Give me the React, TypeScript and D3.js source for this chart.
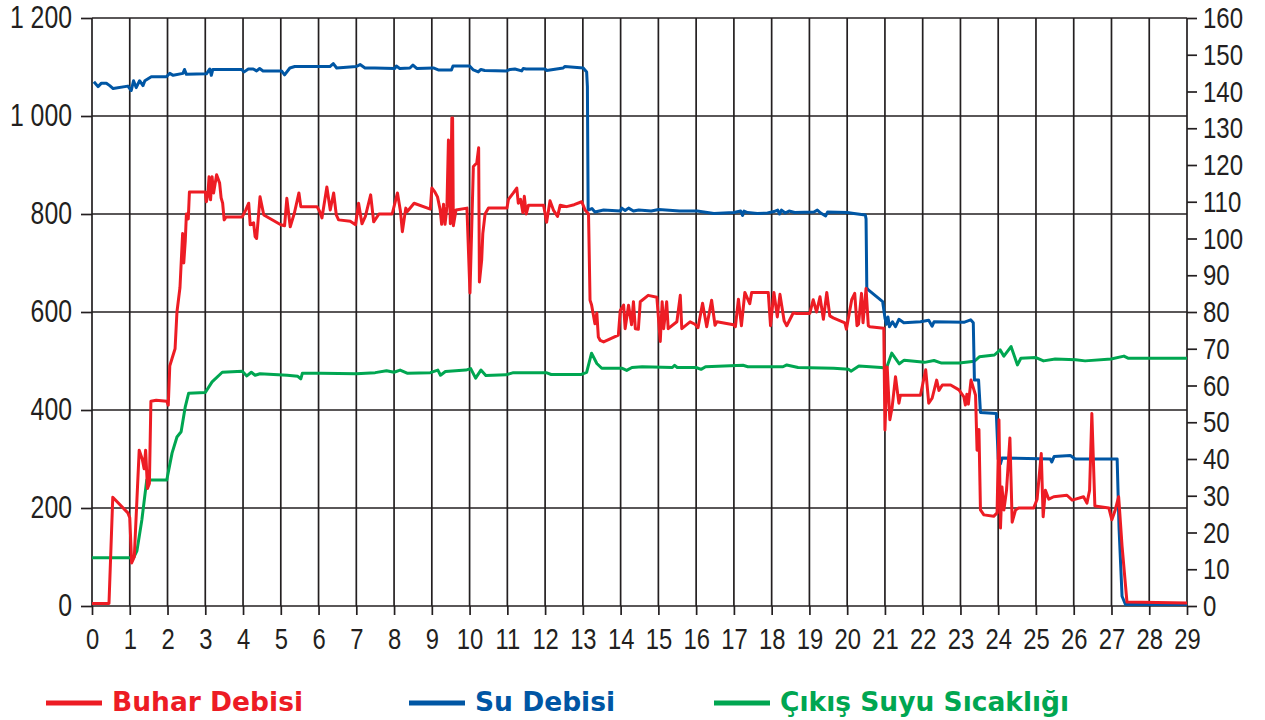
import React, { useRef, useEffect } from 'react';
import * as d3 from 'd3';

type Pt = [number, number];

// x = saat, y = t/h (sol eksen)
const buharDebisi: Pt[] = [
  [0, 5], [0.45, 5], [0.55, 222], [0.95, 190], [1.0, 180], [1.05, 88], [1.12, 100], [1.25, 318],
  [1.33, 300], [1.38, 280], [1.42, 318], [1.47, 240], [1.52, 250], [1.56, 418], [1.7, 420], [1.98, 418],
  [2.02, 410], [2.06, 490], [2.12, 505], [2.2, 525], [2.25, 600], [2.33, 650], [2.4, 760], [2.43, 700],
  [2.47, 745], [2.5, 800], [2.55, 790], [2.58, 845], [3.0, 845], [3.03, 825], [3.07, 840], [3.1, 876],
  [3.14, 829], [3.18, 876], [3.22, 843], [3.3, 880], [3.38, 863], [3.42, 833], [3.46, 822], [3.5, 788],
  [3.55, 794], [3.98, 794], [4.07, 808], [4.15, 822], [4.19, 778], [4.28, 782], [4.32, 754], [4.36, 750],
  [4.45, 835], [4.55, 798], [5.0, 778], [5.1, 776], [5.16, 832], [5.25, 774], [5.36, 802], [5.48, 843],
  [5.53, 815], [5.96, 815], [6.03, 805], [6.09, 792], [6.22, 855], [6.31, 808], [6.4, 843], [6.47, 798],
  [6.53, 788], [6.84, 785], [6.98, 778], [7.06, 822], [7.15, 780], [7.24, 795], [7.38, 839], [7.46, 784],
  [7.6, 800], [7.95, 800], [8.09, 843], [8.17, 805], [8.22, 764], [8.31, 812], [8.35, 805], [8.53, 822],
  [8.96, 810], [9.0, 853], [9.08, 845], [9.15, 835], [9.22, 809], [9.26, 779], [9.31, 820], [9.35, 779],
  [9.4, 815], [9.44, 951], [9.49, 780], [9.53, 996], [9.55, 996], [9.57, 776], [9.64, 808], [9.93, 812],
  [10.01, 639], [10.1, 897], [10.19, 904], [10.24, 935], [10.26, 661], [10.32, 706], [10.35, 760],
  [10.41, 800], [10.5, 812], [10.99, 812], [11.03, 830], [11.16, 843], [11.25, 853], [11.29, 822],
  [11.35, 830], [11.41, 803], [11.45, 836], [11.5, 800], [11.56, 818], [11.96, 818], [12.04, 783],
  [12.13, 827], [12.22, 808], [12.33, 795], [12.4, 818], [12.57, 815], [12.77, 819], [12.97, 825],
  [13.06, 808], [13.15, 800], [13.19, 624], [13.23, 615], [13.32, 576], [13.37, 598], [13.41, 549],
  [13.46, 542], [13.55, 539], [13.94, 553], [13.99, 603], [14.08, 614], [14.12, 566], [14.21, 614],
  [14.29, 574], [14.34, 621], [14.39, 566], [14.47, 565], [14.52, 621], [14.73, 634], [14.96, 630],
  [15.05, 540], [15.1, 621], [15.14, 566], [15.22, 621], [15.26, 566], [15.49, 580], [15.58, 634],
  [15.62, 566], [15.84, 580], [15.97, 575], [16.05, 568], [16.17, 618], [16.28, 570], [16.41, 624],
  [16.5, 573], [16.55, 580], [16.99, 574], [17.04, 570], [17.12, 626], [17.2, 572], [17.29, 640],
  [17.42, 617], [17.47, 640], [17.91, 640], [17.97, 572], [18.06, 640], [18.15, 590], [18.22, 636],
  [18.33, 582], [18.4, 572], [18.57, 598], [18.66, 597], [19.01, 597], [19.1, 625], [19.19, 600],
  [19.28, 631], [19.37, 585], [19.46, 640], [19.54, 592], [19.63, 588], [19.94, 578], [19.98, 565],
  [20.12, 625], [20.2, 638], [20.26, 572], [20.3, 575], [20.38, 638], [20.42, 578], [20.5, 648],
  [20.56, 572], [20.6, 570], [20.97, 567], [21.0, 359], [21.06, 488], [21.13, 380], [21.19, 405],
  [21.28, 468], [21.37, 414], [21.41, 430], [21.94, 430], [22.08, 482], [22.16, 414], [22.25, 424],
  [22.37, 461], [22.43, 440], [22.52, 451], [22.74, 451], [22.96, 441], [23.09, 427], [23.13, 410],
  [23.17, 432], [23.21, 412], [23.28, 461], [23.4, 430], [23.44, 318], [23.49, 360], [23.53, 196],
  [23.62, 186], [23.88, 183], [23.97, 190], [24.02, 380], [24.06, 159], [24.1, 243], [24.15, 196],
  [24.22, 236], [24.31, 343], [24.37, 171], [24.46, 196], [24.54, 200], [24.94, 200], [25.03, 218],
  [25.14, 311], [25.19, 182], [25.25, 236], [25.34, 218], [25.47, 223], [25.82, 226], [25.96, 216],
  [26.26, 223], [26.35, 210], [26.42, 236], [26.48, 393], [26.56, 204], [26.93, 200], [27.01, 176],
  [27.1, 196], [27.19, 223], [27.28, 122], [27.41, 8], [29, 6]
];

// Su Debisi (sol eksen)
const suDebisi: Pt[] = [
  [0.05, 1070], [0.16, 1060], [0.25, 1067], [0.38, 1067], [0.47, 1062], [0.56, 1056], [0.95, 1061],
  [1.04, 1052], [1.1, 1072], [1.17, 1058], [1.26, 1072], [1.35, 1062], [1.4, 1072], [1.57, 1080],
  [1.97, 1080], [2.06, 1087], [2.15, 1083], [2.41, 1087], [2.45, 1095], [2.5, 1085], [3.03, 1086],
  [3.12, 1096], [3.16, 1083], [3.2, 1095], [3.96, 1095], [4.03, 1090], [4.14, 1096], [4.27, 1096],
  [4.36, 1092], [4.44, 1097], [4.53, 1092], [5.02, 1092], [5.1, 1084], [5.24, 1098], [5.37, 1101],
  [6.3, 1101], [6.39, 1107], [6.48, 1098], [7.0, 1101], [7.1, 1105], [7.23, 1098], [7.49, 1098],
  [8.02, 1097], [8.06, 1102], [8.15, 1097], [8.42, 1098], [8.5, 1104], [8.6, 1097], [9.04, 1098],
  [9.17, 1094], [9.52, 1094], [9.56, 1102], [10.0, 1102], [10.1, 1094], [10.23, 1090], [10.3, 1095],
  [10.4, 1093], [10.98, 1092], [11.07, 1095], [11.2, 1096], [11.38, 1092], [11.42, 1097], [11.5, 1096],
  [12.0, 1096], [12.04, 1093], [12.48, 1098], [12.52, 1101], [13.01, 1098], [13.1, 1090], [13.12, 1060],
  [13.14, 808], [13.24, 811], [13.32, 804], [13.55, 808], [13.99, 806], [14.03, 812], [14.12, 807],
  [14.21, 812], [14.34, 806], [14.48, 808], [14.81, 806], [15.01, 809], [15.56, 806], [16.03, 806],
  [16.47, 801], [17.0, 803], [17.18, 806], [17.23, 797], [17.27, 806], [17.36, 803], [17.62, 801],
  [17.89, 802], [18.06, 805], [18.16, 808], [18.21, 800], [18.26, 808], [18.36, 802], [18.46, 806],
  [18.61, 803], [19.12, 804], [19.21, 808], [19.3, 802], [19.43, 796], [19.48, 804], [20.0, 803],
  [20.18, 801], [20.48, 798], [20.5, 790], [20.52, 649], [20.56, 645], [20.94, 621], [21.0, 588],
  [21.04, 575], [21.08, 590], [21.12, 570], [21.2, 580], [21.28, 570], [21.37, 585], [21.5, 578],
  [21.94, 580], [22.16, 583], [22.25, 571], [22.3, 580], [23.09, 579], [23.27, 584], [23.34, 578],
  [23.37, 461], [23.48, 461], [23.53, 395], [23.95, 393], [24.0, 300], [24.06, 290], [24.1, 302],
  [25.38, 300], [25.42, 294], [25.48, 305], [25.91, 307], [26.04, 300], [27.15, 300], [27.2, 160],
  [27.28, 20], [27.37, 3], [29, 3]
];

// Çıkış Suyu Sıcaklığı (sağ eksen)
const cikisSuyuSicakligi: Pt[] = [
  [0, 13.1], [1.1, 13.1], [1.19, 15], [1.32, 23.4], [1.45, 34.3], [1.98, 34.3], [2.12, 41.6], [2.25, 46],
  [2.36, 47.4], [2.47, 54.2], [2.56, 57.9], [3.0, 58.1], [3.18, 61], [3.45, 63.6], [3.98, 63.9],
  [4.1, 62.6], [4.22, 63.6], [4.32, 62.8], [4.45, 63.2], [5.17, 62.8], [5.45, 62.5], [5.53, 61.8],
  [5.57, 63.3], [6.06, 63.3], [7.0, 63.2], [7.5, 63.5], [7.8, 64], [8.0, 63.6], [8.16, 64.2],
  [8.36, 63.3], [8.96, 63.5], [9.16, 64.2], [9.23, 62.8], [9.36, 63.8], [9.9, 64.2], [10.03, 64.6],
  [10.16, 62], [10.3, 64.2], [10.43, 62.7], [10.96, 62.9], [11.16, 63.5], [12.03, 63.5], [12.16, 63],
  [12.96, 63], [13.1, 63.6], [13.23, 68.8], [13.37, 66], [13.5, 64.7], [14.03, 64.7], [14.16, 64.1],
  [14.3, 64.9], [14.57, 65.1], [15.37, 64.9], [15.43, 65.5], [15.5, 64.9], [16.0, 64.9], [16.13, 64.4],
  [16.25, 65.1], [17.24, 65.5], [17.37, 65.1], [18.3, 65.1], [18.4, 65.6], [18.7, 64.9], [19.64, 64.7],
  [20.04, 64.4], [20.1, 63.9], [20.31, 65.3], [20.9, 64.9], [21.04, 64.7], [21.18, 68.8], [21.38, 65.9],
  [21.51, 66.9], [22.05, 66.3], [22.3, 66.8], [22.5, 66.1], [22.97, 66.1], [23.37, 66.6], [23.5, 67.8],
  [23.9, 68.3], [24.05, 69.7], [24.15, 68], [24.34, 70.6], [24.51, 65.6], [24.6, 67.4], [25.0, 67.6],
  [25.2, 66.7], [25.51, 67.2], [26.05, 67], [26.3, 66.7], [26.99, 67.2], [27.33, 68], [27.45, 67.4],
  [29.0, 67.4]
];

const hourTicks = [0, 1, 2, 3, 4, 5, 6, 7, 8, 9, 10, 11, 12, 13, 14, 15, 16, 17, 18, 19, 20, 21, 22, 23, 24, 25, 26, 27, 28, 29];
const leftTicks = [0, 200, 400, 600, 800, 1000, 1200];
const rightTicks = [0, 10, 20, 30, 40, 50, 60, 70, 80, 90, 100, 110, 120, 130, 140, 150, 160];

const seriesNames = ['Buhar Debisi', 'Su Debisi', 'Çıkış Suyu Sıcaklığı'];
const seriesColors = ['#ed1c24', '#0056a4', '#00a651'];

const W = 1265;
const H = 720;
const INK = '#231f20';
const TICK_FONT = '"Liberation Sans", Arial, sans-serif';

const App: React.FC = () => {
  const ref = useRef<SVGSVGElement | null>(null);

  useEffect(() => {
    if (!ref.current) return;
    const svg = d3.select(ref.current);
    svg.selectAll('*').remove();

    const margin = { top: 18, right: 78, bottom: 114, left: 92 };
    const innerWidth = W - margin.left - margin.right;
    const innerHeight = H - margin.top - margin.bottom;

    const x = d3.scaleLinear().domain([0, 29]).range([0, innerWidth]);
    const yL = d3.scaleLinear().domain([0, 1200]).range([innerHeight, 0]);
    const yR = d3.scaleLinear().domain([0, 160]).range([innerHeight, 0]);

    const g = svg.append('g').attr('transform', `translate(${margin.left},${margin.top})`);

    // grid
    g.append('g')
      .selectAll('line')
      .data(hourTicks)
      .join('line')
      .attr('x1', d => x(d))
      .attr('x2', d => x(d))
      .attr('y1', 0)
      .attr('y2', innerHeight)
      .attr('stroke', INK)
      .attr('stroke-width', 1.7);

    g.append('g')
      .selectAll('line')
      .data(leftTicks)
      .join('line')
      .attr('x1', 0)
      .attr('x2', innerWidth)
      .attr('y1', d => yL(d))
      .attr('y2', d => yL(d))
      .attr('stroke', INK)
      .attr('stroke-width', 1.7);

    const nf = d3.formatLocale({ decimal: ',', thousands: ' ', grouping: [3], currency: ['', ''] }).format(',');

    // condensed look: squeeze each label horizontally
    const styleAxis = (sel: d3.Selection<SVGGElement, unknown, null, undefined>, size: number, squeeze: number) => {
      sel.select('.domain').remove();
      sel.selectAll('line').attr('stroke', INK).attr('stroke-width', 1.7);
      sel.selectAll<SVGTextElement, unknown>('text')
        .attr('fill', INK)
        .style('font-family', TICK_FONT)
        .style('font-size', `${size}px`)
        .each(function () {
          const w = this.getComputedTextLength();
          d3.select(this).attr('textLength', w * squeeze).attr('lengthAdjust', 'spacingAndGlyphs');
        });
    };

    const left = g.append('g')
      .call(d3.axisLeft(yL).tickValues(leftTicks).tickSize(11).tickPadding(9).tickFormat(d => nf(d as number)));
    styleAxis(left, 31, 0.8);

    const bottom = g.append('g')
      .attr('transform', `translate(0,${innerHeight})`)
      .call(d3.axisBottom(x).tickValues(hourTicks).tickSize(9).tickPadding(13).tickFormat(d3.format('d')));
    styleAxis(bottom, 29, 0.82);

    const right = g.append('g')
      .attr('transform', `translate(${innerWidth},0)`)
      .call(d3.axisRight(yR).tickValues(rightTicks).tickSize(10).tickPadding(6).tickFormat(d3.format('d')));
    styleAxis(right, 30, 0.8);

    // lines
    const lineL = d3.line<Pt>().x(d => x(d[0])).y(d => yL(d[1]));
    const lineR = d3.line<Pt>().x(d => x(d[0])).y(d => yR(d[1]));

    const drawn: [Pt[], d3.Line<Pt>, string][] = [
      [cikisSuyuSicakligi, lineR, seriesColors[2]],
      [suDebisi, lineL, seriesColors[1]],
      [buharDebisi, lineL, seriesColors[0]]
    ];
    drawn.forEach(([data, gen, color]) => {
      g.append('path')
        .datum(data)
        .attr('fill', 'none')
        .attr('stroke', color)
        .attr('stroke-width', 3)
        .attr('stroke-linejoin', 'round')
        .attr('d', gen);
    });

    // legend
    const legendX = [46, 409, 714];
    const legend = svg.append('g');
    seriesNames.forEach((name, i) => {
      legend.append('line')
        .attr('x1', legendX[i])
        .attr('x2', legendX[i] + 56)
        .attr('y1', 703)
        .attr('y2', 703)
        .attr('stroke', seriesColors[i])
        .attr('stroke-width', 5);
      legend.append('text')
        .attr('x', legendX[i] + 66)
        .attr('y', 711)
        .attr('fill', seriesColors[i])
        .style('font-family', '"DejaVu Sans", sans-serif')
        .style('font-weight', 'bold')
        .style('font-size', '26.5px')
        .text(name);
    });
  }, []);

  return (
    <svg
      ref={ref}
      width={W}
      height={H}
      viewBox={`0 0 ${W} ${H}`}
      style={{ position: 'absolute', left: 0, top: 0, background: '#fff' }}
    />
  );
};

export default App;
